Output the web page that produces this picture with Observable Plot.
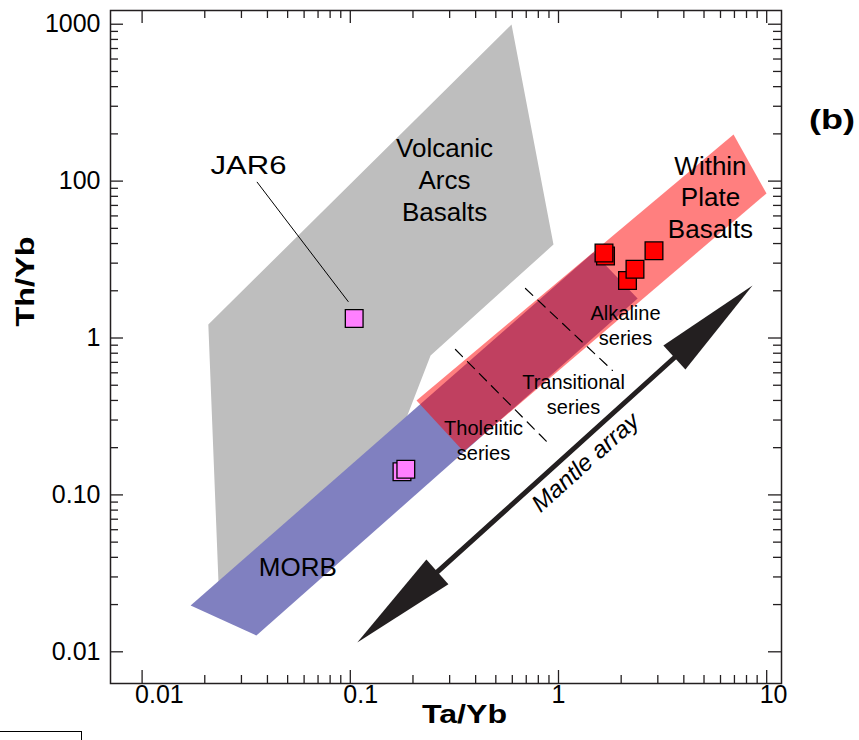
<!DOCTYPE html>
<html><head><meta charset="utf-8">
<script src="https://cdn.jsdelivr.net/npm/d3@7"></script>
<script src="https://cdn.jsdelivr.net/npm/@observablehq/plot@0.6"></script>
<style>
body{margin:0;background:#fff;}
#wrap{position:relative;width:859px;height:740px;overflow:hidden;background:#fff}
#corner{position:absolute;left:0;top:731px;width:81px;height:20px;border-top:1px solid #000;border-right:1px solid #000}
</style>
</head><body><div id="wrap"><div id="corner"></div></div>
<script>
// ---- Data (Ta/Yb = x, Th/Yb = y) ----
const vabX = [0.0208, 0.595, 0.946, 0.243, 0.184, 0.0233];   // Volcanic Arc Basalts field
const vabY = [1.22, 99.5, 3.94, 0.774, 0.298, 0.0268];
const morbX = [0.0171, 1.47, 2.40, 0.0354];                  // MORB / mantle band
const morbY = [0.0197, 3.51, 1.785, 0.0127];
const wpbX = [0.208, 6.93, 9.98, 0.350];                     // Within Plate Basalts field
const wpbY = [0.400, 19.8, 8.34, 0.189];
const dash1X = [0.320, 0.895], dash1Y = [0.845, 0.213];      // tholeiitic / transitional
const dash2X = [0.694, 1.817], dash2Y = [2.068, 0.621];      // transitional / alkaline
const shaftX = [0.262, 3.61], shaftY = [0.0323, 0.751];      // mantle array arrow
const headUpX = [8.55, 3.19, 4.07], headUpY = [2.16, 0.896, 0.630];
const headDnX = [0.108, 0.232, 0.296], headDnY = [0.01146, 0.0388, 0.0269];
const leaderX = [0.0357, 0.0977], leaderY = [9.84, 1.708];

const pinkX = [0.1044, 0.1771, 0.1848];
const pinkY = [1.331, 0.1404, 0.1456];
const redX = [1.682, 1.654, 2.145, 2.330, 2.875];
const redY = [3.332, 3.481, 2.325, 2.741, 3.595];

const xTicks = [0.01, 0.1, 1, 10];
const xTickLabels = ["0.01", "0.1", "1", "10"];
const yTicks = [0.01, 0.1, 1, 10, 100];
const yTickLabels = ["0.01", "0.10", "1", "100", "1000"];

const bigLabelText = ["Volcanic\nArcs\nBasalts", "Within\nPlate\nBasalts", "MORB"];
const bigLabelX = [0.2835, 5.37, 0.05596];
const bigLabelY = [10.33, 8.01, 0.03532];
const seriesLabelText = ["Alkaline\nseries", "Transitional\nseries", "Tholeiitic\nseries"];
const seriesLabelX = [2.098, 1.181, 0.4363];
const seriesLabelY = [1.223, 0.4442, 0.2258];
const jarLabel = {t: "JAR6", x: 0.03245, y: 12.6};
const mantleLabel = {t: "Mantle array", x: 1.348, y: 0.161};
const panelLabel = {t: "(b)", x: 20.6, y: 24.59};

// ---- helpers ----
const pts = (xs, ys) => xs.map((x, i) => ({x, y: ys[i]}));
const labels = (ts, xs, ys) => ts.map((t, i) => ({t, x: xs[i], y: ys[i]}));
const INK = "#231f20";
const FONT = "'Liberation Sans', Arial, Helvetica, sans-serif";
const W = 859, H = 740, ML = 110, MR = 78, MT = 10, MB = 57;
const innerW = W - ML - MR, innerH = H - MT - MB;
const minor = (lo, hi) => { const out = []; for (let e = lo; e <= hi; e++) for (let k = 2; k <= 9; k++) out.push(k * Math.pow(10, e)); return out; };
const xMinor = minor(-2, 0);
const yMinor = minor(-2, 1);
const MAJ = 13, MIN = 8;

const plot = Plot.plot({
  width: W, height: H,
  marginLeft: ML, marginRight: MR, marginTop: MT, marginBottom: MB,
  x: {type: "log", domain: [0.00705, 11.78], axis: null},
  y: {type: "log", domain: [0.00628, 122.3], axis: null},
  style: {fontFamily: FONT, background: "white", color: "black", overflow: "visible"},
  marks: [
    Plot.line(pts(vabX, vabY), {x: "x", y: "y", fill: "#bebebe", stroke: "none"}),
    Plot.line(pts(morbX, morbY), {x: "x", y: "y", fill: "#8080c0", stroke: "none"}),
    Plot.line(pts(wpbX, wpbY), {x: "x", y: "y", fill: "#ff0000", fillOpacity: 0.5, stroke: "none"}),
    Plot.line(pts(dash1X, dash1Y), {x: "x", y: "y", stroke: "black", strokeWidth: 1.2, strokeDasharray: "10,7"}),
    Plot.line(pts(dash2X, dash2Y), {x: "x", y: "y", stroke: "black", strokeWidth: 1.2, strokeDasharray: "10,7"}),
    Plot.line(pts(leaderX, leaderY), {x: "x", y: "y", stroke: "black", strokeWidth: 1}),
    Plot.line(pts(shaftX, shaftY), {x: "x", y: "y", stroke: INK, strokeWidth: 5}),
    Plot.line(pts(headUpX, headUpY), {x: "x", y: "y", fill: INK, stroke: "none"}),
    Plot.line(pts(headDnX, headDnY), {x: "x", y: "y", fill: INK, stroke: "none"}),
    Plot.dot(pts(pinkX, pinkY), {x: "x", y: "y", symbol: "square", r: 10, fill: "#ff80ff", stroke: "black", strokeWidth: 1.3}),
    Plot.dot(pts(redX, redY), {x: "x", y: "y", symbol: "square", r: 10, fill: "#ff0000", stroke: "black", strokeWidth: 1.3}),
    // frame and ticks
    Plot.frame({stroke: INK, strokeWidth: 1.5}),
    Plot.ruleX(xTicks, {x: d => d, insetTop: innerH - MAJ, stroke: INK, strokeWidth: 1.3}),
    Plot.ruleX(xMinor, {x: d => d, insetTop: innerH - MIN, stroke: INK, strokeWidth: 1.3}),
    Plot.ruleX(xTicks, {x: d => d, insetBottom: innerH - MAJ, stroke: INK, strokeWidth: 1.3}),
    Plot.ruleX(xMinor, {x: d => d, insetBottom: innerH - MIN, stroke: INK, strokeWidth: 1.3}),
    Plot.ruleY(yTicks, {y: d => d, insetRight: innerW - MAJ, stroke: INK, strokeWidth: 1.3}),
    Plot.ruleY(yMinor, {y: d => d, insetRight: innerW - MIN, stroke: INK, strokeWidth: 1.3}),
    Plot.ruleY(yTicks, {y: d => d, insetLeft: innerW - MAJ, stroke: INK, strokeWidth: 1.3}),
    Plot.ruleY(yMinor, {y: d => d, insetLeft: innerW - MIN, stroke: INK, strokeWidth: 1.3}),
    Plot.text(xTicks, {x: d => d, frameAnchor: "bottom", dy: 19, dx: -7, textAnchor: "start", text: (d, i) => xTickLabels[i], fontSize: 25, fill: "black"}),
    Plot.text(yTicks, {y: d => d, frameAnchor: "left", dx: -10, textAnchor: "end", text: (d, i) => yTickLabels[i], fontSize: 25, fill: "black"}),
    // axis titles
    Plot.text(["Th/Yb"], {frameAnchor: "left", dx: -85, dy: -20.5, rotate: -90, text: d => d, fontSize: 26, fontWeight: "bold", fill: "black"}),
    Plot.text(["Ta/Yb"], {frameAnchor: "bottom", dx: 18.5, dy: 39.7, text: d => d, fontSize: 26, fontWeight: "bold", fill: "black"}),
    // labels
    Plot.text(labels(bigLabelText, bigLabelX, bigLabelY), {x: "x", y: "y", text: "t", fontSize: 26, lineHeight: 1.22, fill: "black"}),
    Plot.text(labels(seriesLabelText, seriesLabelX, seriesLabelY), {x: "x", y: "y", text: "t", fontSize: 20, lineHeight: 1.25, fill: "black"}),
    Plot.text([jarLabel], {x: "x", y: "y", text: "t", fontSize: 26, fill: "black"}),
    Plot.text([mantleLabel], {x: "x", y: "y", text: "t", fontSize: 24, fontStyle: "italic", rotate: -42, fill: "black"}),
    Plot.text([panelLabel], {x: "x", y: "y", text: "t", fontSize: 28, fontWeight: "bold", fill: "black"})
  ]
});

const stretch = {"JAR6": 76, "Ta/Yb": 85, "Th/Yb": 90, "(b)": 46, "Mantle array": 135};
d3.select(plot).selectAll("text").each(function () {
  const t = this.textContent;
  if (stretch[t] && this.children.length === 0) {
    this.setAttribute("textLength", stretch[t]);
    this.setAttribute("lengthAdjust", "spacingAndGlyphs");
  }
});
document.getElementById("wrap").prepend(plot);
</script></body></html>
